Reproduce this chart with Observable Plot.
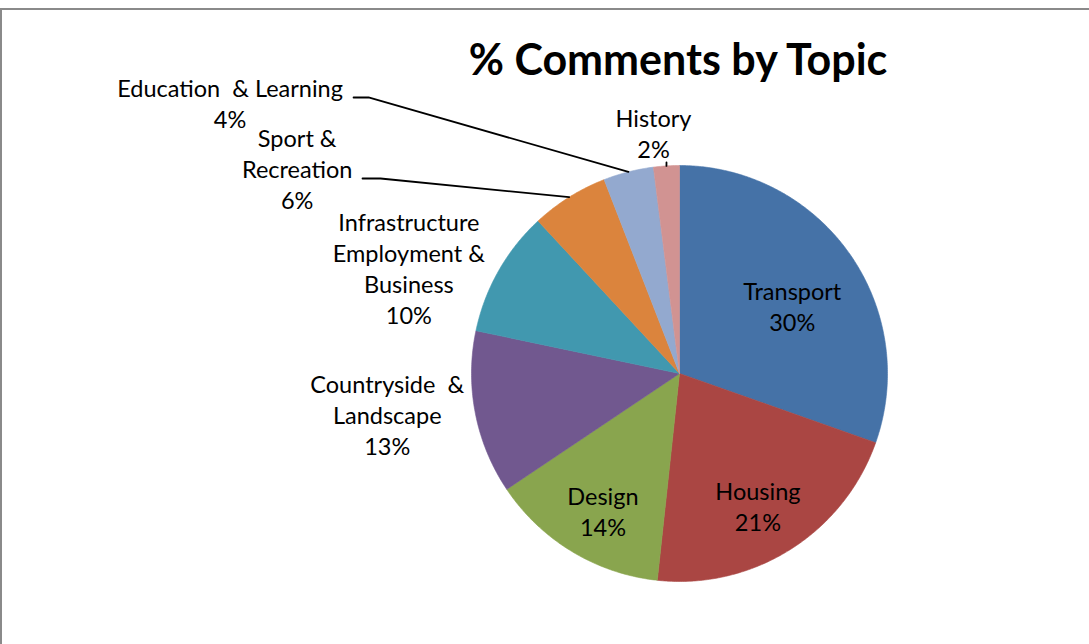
<!DOCTYPE html>
<html><head><meta charset="utf-8">
<script src="https://cdn.jsdelivr.net/npm/d3@7"></script>
<script src="https://cdn.jsdelivr.net/npm/@observablehq/plot@0.6"></script>
<style>
html,body{margin:0;padding:0;background:#fff;}
#wrap{position:relative;width:1089px;height:644px;overflow:hidden;}
#frame{position:absolute;left:0;top:8px;width:1089px;height:636px;border-top:2px solid #8a8a8a;border-left:2px solid #8a8a8a;box-sizing:border-box;pointer-events:none;}
#chart{position:absolute;left:0;top:0;}
#chart text{white-space:pre;}
</style></head><body>
<div id="wrap"><div id="chart"></div><div id="frame"></div></div>
<script>
// ---- data ----
const topics = ["Transport","Housing","Design","Countryside  &\nLandscape","Infrastructure\nEmployment &\nBusiness","Sport &\nRecreation","Education  & Learning","History"];
const shares = [30.4,21.3,13.9,12.7,9.8,6.0,3.9,2.0];
const colors = ["#4572A7","#AA4643","#89A54E","#71588F","#4198AF","#DB843D","#93A9CF","#D19392"];
const title = "% Comments by Topic";

// ---- layout (radius units, centre of pie = 0,0, y up) ----
const W = 1089, H = 644, CX = 679, CY = 373, R = 208;
const labelAt = [[0.542,0.203],[0.377,-0.755],[-0.368,-0.779],[-1.405,-0.392],[-1.301,0.240],[-1.838,0.793],[-2.161,1.178],[-0.125,1.038]];
// leader lines: label-side points (before reaching the slice edge)
const leaders = {5: [[-1.524,0.9375],[-1.4375,0.9375]], 6: [[-1.567,1.327],[-1.495,1.327]], 7: [[-0.0625,1.015]]};

const total = d3.sum(shares);
const slices = [];
const labels = [];
const leaderPts = [];
let acc = 0;
shares.forEach((v, i) => {
  const a0 = acc / total * 2 * Math.PI;
  acc += v;
  const a1 = acc / total * 2 * Math.PI;
  const n = Math.max(2, Math.ceil((a1 - a0) / (Math.PI / 360)));
  slices.push({k: i, x: 0, y: 0, c: colors[i]});
  for (let j = 0; j <= n; j++) {
    const a = a0 + (a1 - a0) * j / n;
    slices.push({k: i, x: Math.sin(a), y: Math.cos(a), c: colors[i]});
  }
  slices.push({k: i, x: 0, y: 0, c: colors[i]});
  labels.push({x: labelAt[i][0], y: labelAt[i][1], t: topics[i] + "\n" + Math.round(v / total * 100) + "%"});
  if (leaders[i]) {
    const am = (a0 + a1) / 2;
    leaders[i].forEach(p => leaderPts.push({k: i, x: p[0], y: p[1]}));
    leaderPts.push({k: i, x: Math.sin(am), y: Math.cos(am)});
  }
});

const chart = Plot.plot({
  width: W, height: H, margin: 0,
  x: {domain: [-CX / R, (W - CX) / R], axis: null},
  y: {domain: [-(H - CY) / R, CY / R], axis: null},
  color: {type: "identity"},
  style: {fontFamily: "Lato, 'Open Sans', sans-serif", background: "transparent", color: "#000"},
  marks: [
    Plot.line(slices, {x: "x", y: "y", z: "k", fill: "c", stroke: "c", strokeWidth: 0.6, curve: "linear"}),
    Plot.line(leaderPts, {x: "x", y: "y", z: "k", stroke: "#000", strokeWidth: 1.8, curve: "linear"}),
    Plot.text(labels, {x: "x", y: "y", text: "t", textAnchor: "middle", lineAnchor: "bottom", lineHeight: 1.32, fontSize: 23.5, fill: "#000"}),
    Plot.text([title], {frameAnchor: "top-left", dx: 677.5, dy: 74, text: d => d, textAnchor: "middle", lineAnchor: "bottom", fontSize: 43, fontWeight: "bold", fill: "#000"})
  ]
});
document.getElementById("chart").appendChild(chart);
</script>
</body></html>
